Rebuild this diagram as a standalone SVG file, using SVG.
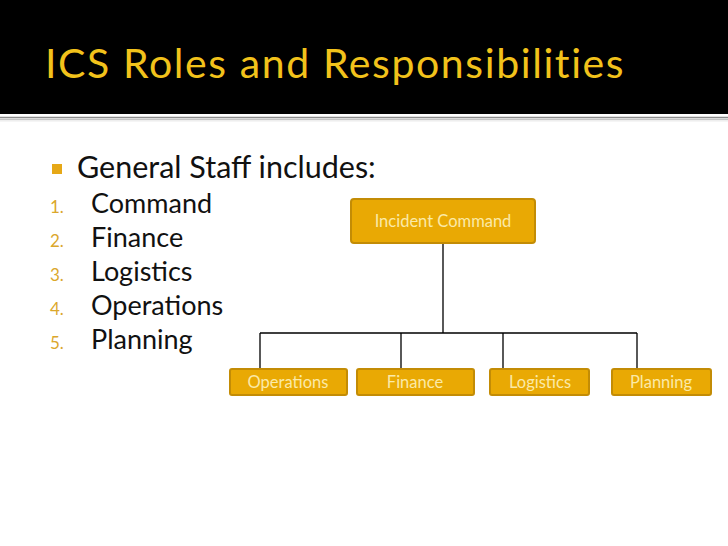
<svg xmlns="http://www.w3.org/2000/svg" width="728" height="546" viewBox="0 0 728 546">
<style>
.title{font-family:"Lato","Liberation Sans",sans-serif;font-size:41px;letter-spacing:1.6px;fill:#f2c21b}
.body{font-family:"Lato","Liberation Sans",sans-serif;font-size:27px;fill:#111}
.num{font-family:"Lato","Liberation Sans",sans-serif;font-size:17px;fill:#dba72c}
.box{fill:#e9a904;stroke:#c38c05;stroke-width:2}
.lbl{font-family:"Lato","Liberation Sans",sans-serif;font-size:16.5px;fill:#fbeaa8;text-anchor:middle}
.conn{stroke:#000;stroke-width:1.3;fill:none}
</style>
<rect x="0" y="0" width="728" height="546" fill="#fff"/>
<rect x="0" y="0" width="728" height="114" fill="#000"/>
<line x1="0" y1="117.5" x2="728" y2="117.5" stroke="#8a8a8a" stroke-width="1.5"/>
<line x1="0" y1="119.5" x2="728" y2="119.5" stroke="#c4c4c4" stroke-width="1.5"/>
<line x1="0" y1="121" x2="728" y2="121" stroke="#ececec" stroke-width="1"/>
<text class="title" x="45" y="78">ICS Roles and Responsibilities</text>
<rect x="52" y="164" width="10" height="10" fill="#e6a817"/>
<text class="body" x="77" y="178" style="font-size:30.5px">General Staff includes:</text>
<text class="num" x="50" y="213">1.</text><text class="body" x="91" y="213">Command</text>
<text class="num" x="50" y="247">2.</text><text class="body" x="91" y="247">Finance</text>
<text class="num" x="50" y="281">3.</text><text class="body" x="91" y="281">Logistics</text>
<text class="num" x="50" y="315">4.</text><text class="body" x="91" y="315">Operations</text>
<text class="num" x="50" y="349">5.</text><text class="body" x="91" y="349">Planning</text>
<g id="connectors">
<path class="conn" d="M443 243 V333 M260 333 H637 M260 333 V368 M401 333 V368 M503 333 V368 M637 333 V368"/>
</g>
<g id="incident-command"><rect class="box" x="351" y="199" width="184" height="44" rx="3"/><text class="lbl" x="443" y="227">Incident Command</text></g>
<g id="operations"><rect class="box" x="230" y="369" width="117" height="26" rx="2"/><text class="lbl" x="288" y="388">Operations</text></g>
<g id="finance"><rect class="box" x="357" y="369" width="117" height="26" rx="2"/><text class="lbl" x="415" y="388">Finance</text></g>
<g id="logistics"><rect class="box" x="490" y="369" width="99" height="26" rx="2"/><text class="lbl" x="540" y="388">Logistics</text></g>
<g id="planning"><rect class="box" x="612" y="369" width="99" height="26" rx="2"/><text class="lbl" x="661" y="388">Planning</text></g>
</svg>
